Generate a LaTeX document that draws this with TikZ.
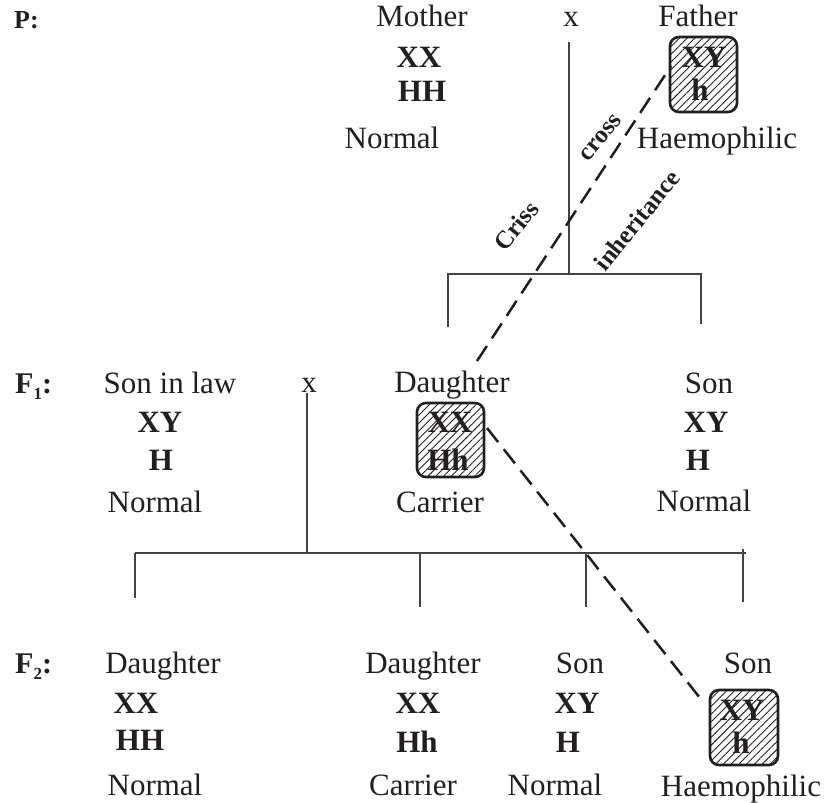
\documentclass[tikz,border=0pt]{standalone}
\usepackage{fontspec}
\setmainfont{Liberation Serif}
\usetikzlibrary{patterns.meta}
\definecolor{ink}{HTML}{231F20}
\begin{document}
\begin{tikzpicture}[x=1pt,y=-1pt,
 t/.style={anchor=base,inner sep=0pt,text=ink,font=\fontsize{31}{36}\selectfont},
 b/.style={anchor=base,inner sep=0pt,text=ink,font=\fontsize{31}{36}\selectfont\bfseries},
 lab/.style={inner sep=0pt,text=ink,font=\fontsize{25}{28}\selectfont\bfseries,rotate=51},
 gen/.style={anchor=base west,inner sep=0pt,text=ink,font=\fontsize{30}{36}\selectfont\bfseries},
 hbox/.style={draw=ink,line width=2.6pt,rounded corners=9pt,inner sep=0pt,
   pattern={Lines[angle=45,distance=5.5pt,line width=0.9pt]},pattern color=ink},
 ln/.style={line width=1.2pt,draw=ink!85},
 dl/.style={line width=2.5pt,draw=ink,dash pattern=on 18pt off 9pt}]
\useasboundingbox (0,0) rectangle (825,803);

% ---------- P generation ----------
\node[anchor=base west,inner sep=0pt,text=ink,font=\fontsize{26}{30}\selectfont\bfseries] (P) at (14,28) {P:};
\node[t] (mother) at (422,27) {Mother};
\node[t] (px) at (571,27) {x};
\node[t] (father) at (698,27) {Father};
\node[b] (mxx) at (419,67) {XX};
\node[b] (mhh) at (422,101) {HH};
\node[t] (mnorm) at (392,148) {Normal};
\node[hbox,minimum width=67pt,minimum height=75pt] (fbox) at (703.5,74.5) {};
\node[b] (fxy) at (704,67) {XY};
\node[b] (fh) at (700,100) {h};
\node[t] (fhaem) at (717,148) {Haemophilic};

\coordinate (pv1) at (569,42);
\coordinate (pj1) at (569,274);
\coordinate (ph1l) at (448,274);
\coordinate (ph1r) at (701,274);
\coordinate (pd1l) at (448,327);
\coordinate (pd1r) at (701,324);
\draw[ln] (pv1) -- (pj1);
\draw[ln] (pd1l) -- (ph1l) -- (ph1r) -- (pd1r);

\node[lab] (criss) at (516,226) {Criss};
\node[lab] (cross) at (601,138) {cross};
\node[lab] (inh) at (637,220) {inheritance};

% ---------- F1 generation ----------
\node[gen] (F1) at (15,393) {F\raisebox{-6pt}{\fontsize{17}{20}\selectfont 1}:};
\node[t] (sil) at (170,393) {Son in law};
\node[t] (fx) at (309,392) {x};
\node[t] (dau1) at (452,392) {Daughter};
\node[t] (son1) at (709,393) {Son};
\node[b] (silxy) at (160,432) {XY};
\node[b] (silh) at (161,470) {H};
\node[t] (siln) at (155,512) {Normal};
\node[hbox,minimum width=67pt,minimum height=74pt] (dbox) at (450.5,440) {};
\node[b] (dxx) at (450,432) {XX};
\node[b] (dhh) at (448,470) {Hh};
\node[t] (dcar) at (440,512) {Carrier};
\node[b] (sonxy) at (706,432) {XY};
\node[b] (sonh) at (698,470) {H};
\node[t] (sonn) at (704,511) {Normal};

\coordinate (fv1) at (307,393);
\coordinate (fj1) at (307,553);
\coordinate (fhl) at (135,553);
\coordinate (fhr) at (746,553);
\coordinate (ft1) at (135,553);
\coordinate (fb1) at (135,598);
\coordinate (ft2) at (420,553);
\coordinate (fb2) at (420,607);
\coordinate (ft3) at (586,553);
\coordinate (fb3) at (586,607);
\coordinate (ft4) at (743,549);
\coordinate (fb4) at (743,602);
\draw[ln] (fv1) -- (fj1);
\draw[ln] (fhl) -- (fhr);
\draw[ln] (ft1) -- (fb1);
\draw[ln] (ft2) -- (fb2);
\draw[ln] (ft3) -- (fb3);
\draw[ln] (ft4) -- (fb4);

% ---------- F2 generation ----------
\node[gen] (F2) at (15,673) {F\raisebox{-6pt}{\fontsize{17}{20}\selectfont 2}:};
\node[t] (d2a) at (163,673) {Daughter};
\node[b] (d2axx) at (136,713) {XX};
\node[b] (d2ahh) at (140,750) {HH};
\node[t] (d2an) at (155,795) {Normal};
\node[t] (d2b) at (423,673) {Daughter};
\node[b] (d2bxx) at (418,713) {XX};
\node[b] (d2bhh) at (417,752) {Hh};
\node[t] (d2bc) at (413,795) {Carrier};
\node[t] (s2a) at (580,673) {Son};
\node[b] (s2axy) at (577,713) {XY};
\node[b] (s2ah) at (568,752) {H};
\node[t] (s2an) at (555,795) {Normal};
\node[t] (s2b) at (748,673) {Son};
\node[hbox,minimum width=68pt,minimum height=75pt] (sbox) at (744,727.5) {};
\node[b] (s2bxy) at (742,720) {XY};
\node[b] (s2bh) at (741,753) {h};
\node[t] (s2bn) at (741,796) {Haemophilic};

% ---------- criss-cross dashed lines ----------
\coordinate (ds1) at (477,361);
\coordinate (de1) at (671,66);
\coordinate (ds2) at (487,428);
\coordinate (de2) at (700,698);
\draw[dl] (ds1) -- (de1);
\draw[dl] (ds2) -- (de2);
\end{tikzpicture}
\end{document}
